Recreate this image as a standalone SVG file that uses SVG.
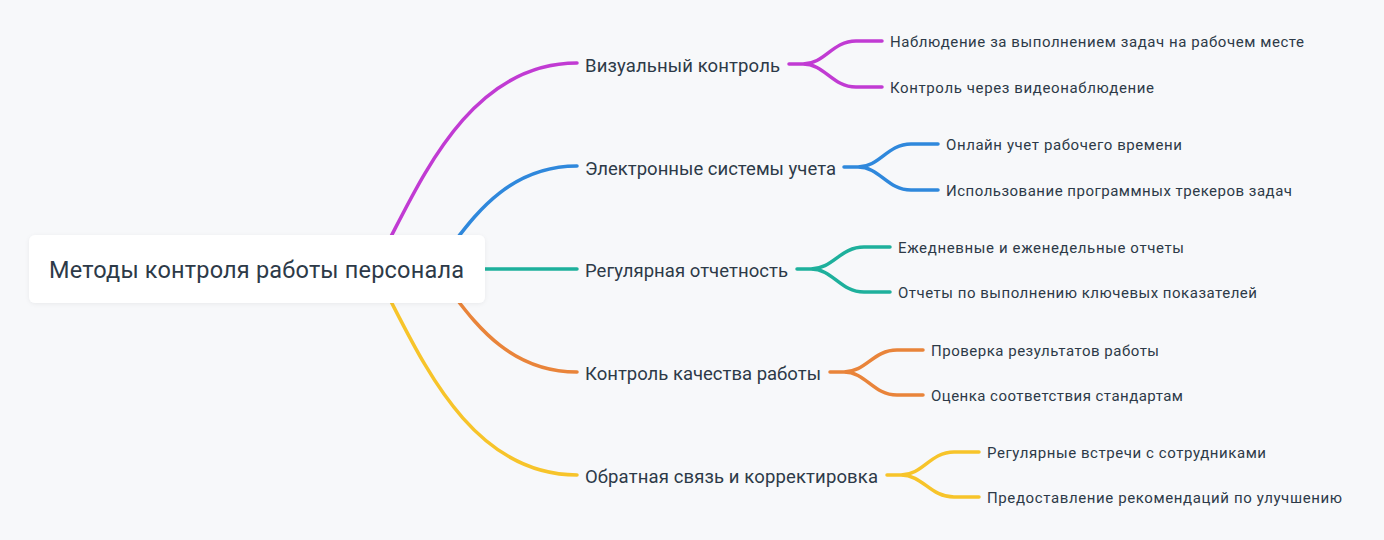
<svg xmlns="http://www.w3.org/2000/svg" width="1384" height="540" viewBox="0 0 1384 540">
<defs>
<filter id="sh" x="-10%" y="-30%" width="120%" height="160%">
<feDropShadow dx="0" dy="1" stdDeviation="2" flood-color="#000" flood-opacity="0.06"/>
</filter>
</defs>
<style>
.bg{fill:#f7f8fa}
.c{fill:none;stroke-width:3.5;stroke-linecap:round}
.t{font-family:Roboto,"Noto Sans","Liberation Sans",sans-serif;fill:#2d3a48}
.root{font-size:23.5px}
.l1{font-size:18.5px}
.l2{font-size:15px}
.p{stroke:#c13bd3}.b{stroke:#2f88dc}.g{stroke:#1eb09c}.o{stroke:#e9843a}.y{stroke:#f7c42a}
</style>
<rect class="bg" x="0" y="0" width="1384" height="540"/>
<g id="connectors">
<path class="c p" d="M384 250 C421 180 470 63 577 63"/>
<path class="c b" d="M452 245 C475 215 510 166 577 166"/>
<path class="c g" d="M470 269 L577 269"/>
<path class="c o" d="M452 293 C475 323 510 372 577 372"/>
<path class="c y" d="M384 288 C421 358 470 475 577 475"/>
<path class="c p" d="M789 64 H803 C825 64 832 41 856 41 H882 M803 64 C825 64 832 87 856 87 H882"/>
<path class="c b" d="M844 167 H858 C880 167 887 144 911 144 H938 M858 167 C880 167 887 190 911 190 H938"/>
<path class="c g" d="M797 269 H811 C833 269 840 247 864 247 H890 M811 269 C833 269 840 292 864 292 H890"/>
<path class="c o" d="M830 372 H844 C866 372 873 350 897 350 H923 M844 372 C866 372 873 395 897 395 H923"/>
<path class="c y" d="M887 475 H901 C923 475 930 452 954 452 H979 M901 475 C923 475 930 497 954 497 H979"/>
</g>
<g id="root">
<rect x="29" y="235" width="456" height="68" rx="6" fill="#ffffff" filter="url(#sh)"/>
<text class="t root" x="49" y="278" textLength="415">Методы контроля работы персонала</text>
</g>
<g id="n1"><text class="t l1" x="585" y="72" textLength="195">Визуальный контроль</text></g>
<g id="n1a"><text class="t l2" x="890" y="47.3" textLength="414">Наблюдение за выполнением задач на рабочем месте</text></g>
<g id="n1b"><text class="t l2" x="890" y="93.3" textLength="264">Контроль через видеонаблюдение</text></g>
<g id="n2"><text class="t l1" x="585" y="175" textLength="251">Электронные системы учета</text></g>
<g id="n2a"><text class="t l2" x="946" y="150.3" textLength="236">Онлайн учет рабочего времени</text></g>
<g id="n2b"><text class="t l2" x="946" y="196.3" textLength="346">Использование программных трекеров задач</text></g>
<g id="n3"><text class="t l1" x="585" y="277" textLength="203">Регулярная отчетность</text></g>
<g id="n3a"><text class="t l2" x="898" y="253.3" textLength="286">Ежедневные и еженедельные отчеты</text></g>
<g id="n3b"><text class="t l2" x="898" y="298.3" textLength="359">Отчеты по выполнению ключевых показателей</text></g>
<g id="n4"><text class="t l1" x="585" y="380" textLength="236">Контроль качества работы</text></g>
<g id="n4a"><text class="t l2" x="931" y="356.3" textLength="228">Проверка результатов работы</text></g>
<g id="n4b"><text class="t l2" x="931" y="401.3" textLength="252">Оценка соответствия стандартам</text></g>
<g id="n5"><text class="t l1" x="585" y="483" textLength="293">Обратная связь и корректировка</text></g>
<g id="n5a"><text class="t l2" x="987" y="458.3" textLength="279">Регулярные встречи с сотрудниками</text></g>
<g id="n5b"><text class="t l2" x="987" y="503.3" textLength="355">Предоставление рекомендаций по улучшению</text></g>
</svg>
